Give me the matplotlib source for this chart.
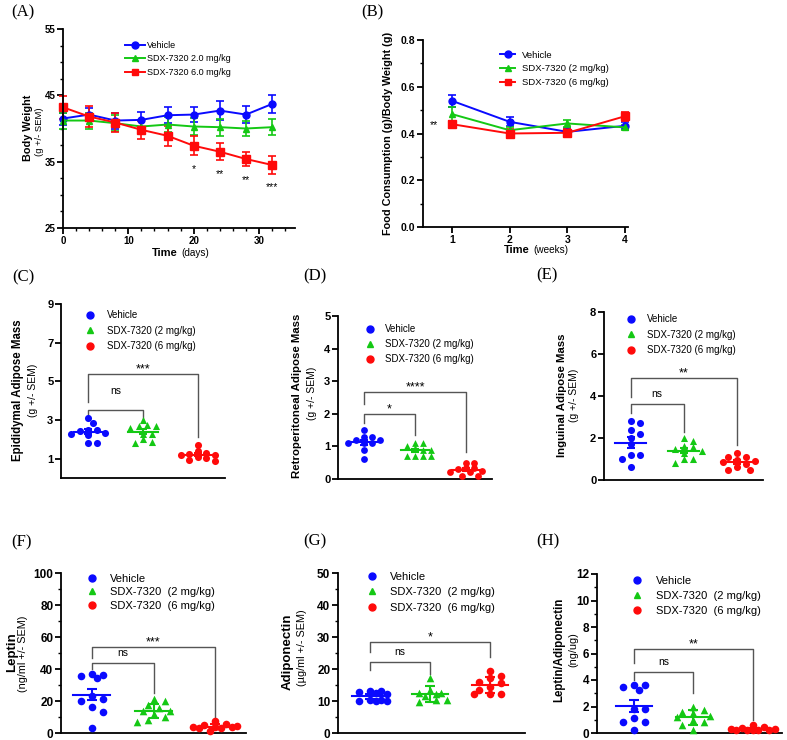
import numpy as np
import matplotlib
matplotlib.use('Agg')
import matplotlib.pyplot as plt
from matplotlib.lines import Line2D
from matplotlib.ticker import MultipleLocator

# ---------------- data ----------------
# (A) body weight
days = [0, 4, 8, 12, 16, 20, 24, 28, 32]
bw_vehicle = [41.5, 42.1, 41.2, 41.3, 42.0, 42.1, 42.7, 42.1, 43.7]
bw_vehicle_sem = [0.9, 1.0, 1.2, 1.2, 1.2, 1.1, 1.4, 1.3, 1.4]
bw_low = [41.2, 41.2, 40.8, 40.3, 40.6, 40.3, 40.2, 40.0, 40.2]
bw_low_sem = [1.2, 1.2, 1.2, 1.0, 1.1, 1.3, 1.3, 1.1, 1.2]
bw_high = [43.2, 41.8, 40.9, 39.8, 38.9, 37.4, 36.5, 35.4, 34.5]
bw_high_sem = [1.7, 1.6, 1.4, 1.4, 1.5, 1.4, 1.3, 1.1, 1.3]
bw_stars = ['', '', '', '', '', '*', '**', '**', '***']

# (B) food consumption / body weight
weeks = [1, 2, 3, 4]
fc_vehicle = [0.540, 0.450, 0.407, 0.433]
fc_vehicle_sem = [0.025, 0.020, 0.015, 0.015]
fc_low = [0.483, 0.414, 0.443, 0.426]
fc_low_sem = [0.030, 0.012, 0.015, 0.010]
fc_high = [0.440, 0.400, 0.403, 0.474]
fc_high_sem = [0.015, 0.020, 0.015, 0.020]
fc_stars = ['**', '', '', '']

# (C) epididymal adipose mass
epi_vehicle = [3.1, 2.85, 2.5, 2.5, 2.45, 2.35, 2.3, 2.2, 1.8, 1.8]
epi_low = [3.0, 2.75, 2.7, 2.7, 2.6, 2.3, 2.3, 2.0, 1.85, 1.8]
epi_high = [1.7, 1.4, 1.3, 1.25, 1.2, 1.2, 1.1, 1.05, 0.95, 0.9]
epi_err = [0.13, 0.13, 0.08]
epi_brackets = [(0, 1, 3.5, 3.0, 3.0, 'ns', 12), (0, 2, 5.4, 3.94, 2.12, '***', 1)]

# (D) retroperitoneal adipose mass
rp_vehicle = [1.5, 1.3, 1.3, 1.2, 1.2, 1.1, 1.1, 1.1, 0.9, 0.6]
rp_low = [1.1, 1.1, 1.0, 0.95, 0.9, 0.9, 0.7, 0.7, 0.7, 0.7]
rp_high = [0.5, 0.5, 0.35, 0.35, 0.3, 0.25, 0.22, 0.2, 0.1, 0.1]
rp_err = [0.08, 0.05, 0.05]
rp_brackets = [(0, 1, 2.0, 1.72, 1.35, '*', 1), (0, 2, 2.67, 2.3, 0.84, '****', 1)]

# (E) inguinal adipose mass
ing_vehicle = [2.8, 2.7, 2.4, 2.2, 2.0, 1.7, 1.2, 1.2, 1.0, 0.6]
ing_low = [2.0, 1.85, 1.6, 1.55, 1.5, 1.4, 1.3, 1.0, 1.0, 0.8]
ing_high = [1.3, 1.1, 1.1, 0.95, 0.9, 0.85, 0.75, 0.6, 0.5, 0.5]
ing_err = [0.25, 0.12, 0.1]
ing_brackets = [(0, 1, 3.6, 3.17, 2.3, 'ns', 5), (0, 2, 4.87, 3.96, 1.66, '**', 1)]

# (F) leptin
lep_vehicle = [36.6, 36.1, 35.9, 34.6, 23.2, 21.4, 20.0, 16.4, 13.3, 2.9]
lep_low = [21.4, 20.0, 17.5, 15.4, 14.0, 13.5, 12.0, 10.0, 8.0, 7.0]
lep_high = [7.5, 5.5, 5.0, 4.5, 4.0, 3.5, 3.5, 3.0, 3.0, 1.0]
lep_err = [3.7, 4.5, 1.5]
lep_brackets = [(0, 1, 43.6, 39.8, 24.9, 'ns', 5), (0, 2, 53.9, 46.7, 7.9, '***', 1)]

# (G) adiponectin
adi_vehicle = [13.1, 13.1, 12.9, 12.5, 12.3, 10.4, 10.2, 10.0, 9.9, 9.9]
adi_low = [17.2, 13.3, 12.5, 12.5, 12.3, 11.5, 10.2, 10.2, 9.7]
adi_high = [19.4, 17.7, 17.2, 16.0, 15.5, 14.5, 13.5, 12.3, 12.3, 12.2]
adi_err = [0.7, 2.5, 2.5]
adi_brackets = [(0, 1, 22.2, 19.6, 18.5, 'ns', 5), (0, 2, 28.4, 25.3, 23.75, '*', 1)]

# (H) leptin / adiponectin
ratio_vehicle = [3.6, 3.6, 3.45, 3.25, 1.8, 1.8, 1.1, 0.85, 0.85, 0.25]
ratio_low = [2.0, 1.7, 1.6, 1.5, 1.3, 1.2, 1.0, 0.8, 0.6, 0.2]
ratio_high = [0.6, 0.45, 0.35, 0.3, 0.3, 0.25, 0.25, 0.2, 0.2, 0.2]
ratio_err = [0.45, 0.55, 0.06]
ratio_brackets = [(0, 1, 4.64, 4.0, 3.0, 'ns', 5), (0, 2, 6.35, 5.3, 1.0, '**', 1)]

labels_line_a = ['Vehicle', 'SDX-7320 2.0 mg/kg', 'SDX-7320 6.0 mg/kg']
labels_line_b = ['Vehicle', 'SDX-7320 (2 mg/kg)', 'SDX-7320 (6 mg/kg)']
labels_mid = ['Vehicle', 'SDX-7320 (2 mg/kg)', 'SDX-7320 (6 mg/kg)']
labels_low = ['Vehicle', 'SDX-7320  (2 mg/kg)', 'SDX-7320  (6 mg/kg)']

BLUE, GREEN, RED = '#0a0aff', '#14c814', '#ff0a0a'
colors = [BLUE, GREEN, RED]
BRACKET = '#555555'

# ---------------- figure ----------------
W, H = 787, 740
plt.rcParams['font.family'] = ['Liberation Sans', 'DejaVu Sans']
plt.rcParams['axes.linewidth'] = 1.3
fig = plt.figure(figsize=(W / 100, H / 100), dpi=100)


def px_axes(l, t, r, b):
    return fig.add_axes([l / W, 1 - b / H, (r - l) / W, (b - t) / H])


def ftext(x, y, s, **kw):
    fig.text(x / W, 1 - y / H, s, **kw)


def style(ax, xticks, yticks, fs, yfmt='{:g}', xfmt='{:g}'):
    ax.spines['top'].set_visible(False)
    ax.spines['right'].set_visible(False)
    ax.tick_params(which='major', length=4, width=1.3, pad=1.5)
    ax.tick_params(which='minor', length=2.5, width=1.0)
    ax.set_yticks(yticks)
    ax.set_yticklabels([yfmt.format(v) for v in yticks], fontweight='bold', fontsize=fs)
    if xticks is None:
        ax.set_xticks([])
    else:
        ax.set_xticks(xticks)
        ax.set_xticklabels([xfmt.format(v) for v in xticks], fontweight='bold', fontsize=fs)


def legend_at(ax, handles, labels, x0, y_first, text_x, fs, row_px, hl):
    fs_px = fs * 100 / 72
    pad = (text_x - x0 - hl * fs_px) / fs_px
    spacing = (row_px - 1.15 * fs_px) / fs_px
    top = y_first - 0.575 * fs_px
    ax.legend(handles, labels, loc='upper left', bbox_to_anchor=(x0 / W, 1 - top / H),
              bbox_transform=fig.transFigure, frameon=False, fontsize=fs,
              handlelength=hl, handletextpad=pad, labelspacing=spacing,
              borderpad=0, borderaxespad=0)


def swarm(ax, vals, xlim, ylim, d, kmax):
    # spread points sideways when they would overlap, at most kmax*d from centre
    bb = ax.get_position()
    xs = bb.width * W / (xlim[1] - xlim[0])
    ys = bb.height * H / (ylim[1] - ylim[0])
    dv = 0.6 * d
    ks = [0] + [s * k for k in np.arange(0.5, kmax + 0.01, 0.5) for s in (1, -1)]
    placed = []
    offs = np.zeros(len(vals))
    for i in np.argsort(vals)[::-1]:
        y = vals[i] * ys
        best, best_x = -1, 0
        for k in ks:
            x = k * d
            gap = min([((x - px) / d) ** 2 + ((y - py) / dv) ** 2 for px, py in placed] + [9])
            if gap >= 0.95:
                best_x = x
                break
            if gap > best:
                best, best_x = gap, x
        placed.append((best_x, y))
        offs[i] = best_x / xs
    return offs


def line_panel(ax, x, series, sems, markers, sizes):
    for vals, sem, c, m, ms in zip(series, sems, colors, markers, sizes):
        cont = ax.errorbar(x, vals, yerr=sem, color=c, marker=m, ms=ms, lw=1.4,
                           elinewidth=1.2, capsize=3, capthick=1.2)
        for art in cont.get_children():
            art.set_clip_on(False)


def dot_panel(ax, groups, errs, ylim, xlim, brackets, d, s, half_w, cap, kmax):
    markers = ['o', '^', 'o']
    for i, (vals, err) in enumerate(zip(groups, errs)):
        vals = np.array(vals)
        offs = swarm(ax, vals, xlim, ylim, d, kmax[i])
        ax.scatter(i + offs, vals, s=s, marker=markers[i], color=colors[i],
                   linewidths=0, zorder=3, clip_on=False)
        m = vals.mean()
        ax.plot([i - half_w, i + half_w], [m, m], color=colors[i], lw=1.5, zorder=4)
        ax.errorbar(i, m, yerr=err, color=colors[i], lw=1.5, capsize=cap, capthick=1.5, zorder=4)
    for x1, x2, y, yl, yr, lab, off in brackets:
        ax.plot([x1, x1, x2, x2], [yl, y, y, yr], color=BRACKET, lw=1.0)
        fsz = 7.5 if lab == 'ns' else 9
        ax.annotate(lab, ((x1 + x2) / 2, y), xytext=(0, off), textcoords='offset points',
                    ha='center', va='baseline', fontsize=fsz)
    ax.set_xlim(xlim)
    ax.set_ylim(ylim)


def ylabel_pair(x1, x2, y, main, sub, fs1, fs2, y2=None):
    ftext(x1, y, main, rotation=90, ha='center', va='center', fontweight='bold', fontsize=fs1)
    ftext(x2, y if y2 is None else y2, sub, rotation=90, ha='center', va='center', fontsize=fs2)


# ---- (A) ----
axA = px_axes(63, 29, 295, 228)
line_panel(axA, days, [bw_vehicle, bw_low, bw_high], [bw_vehicle_sem, bw_low_sem, bw_high_sem],
           ['o', '^', 's'], [5, 5, 5.5])
for d_, v, s_, st in zip(days, bw_high, bw_high_sem, bw_stars):
    if st:
        axA.annotate(st, (d_, v - s_), xytext=(0, -12), textcoords='offset points',
                     ha='center', va='baseline', fontsize=7.5)
axA.set_xlim(0, 35.5)
axA.set_ylim(25, 55)
style(axA, [0, 10, 20, 30], [25, 35, 45, 55], 7)
axA.xaxis.set_minor_locator(MultipleLocator(2))
axA.yaxis.set_minor_locator(MultipleLocator(2.5))
hA = [Line2D([], [], color=c, marker=m, ms=5, lw=1.4) for c, m in zip(colors, ['o', '^', 's'])]
legend_at(axA, hA, labels_line_a, 125, 46, 147, 6.5, 15, 2.2)
ylabel_pair(28, 40, 128, 'Body Weight', '(g +/- SEM)', 7.8, 6.8, 132)
ftext(178, 253, 'Time', ha='right', va='center', fontweight='bold', fontsize=8)
ftext(181, 253, '(days)', ha='left', va='center', fontsize=7.2)

# ---- (B) ----
axB = px_axes(423, 40, 628, 227)
line_panel(axB, weeks, [fc_vehicle, fc_low, fc_high], [fc_vehicle_sem, fc_low_sem, fc_high_sem],
           ['o', '^', 's'], [5, 5, 5.5])
for w_, v, st in zip(weeks, fc_high, fc_stars):
    if st:
        axB.annotate(st, (w_, v), xytext=(-10, -3), textcoords='offset points',
                     ha='right', va='baseline', fontsize=7.5)
axB.set_xlim(0.5, 4.05)
axB.set_ylim(0, 0.8)
style(axB, [1, 2, 3, 4], [0, 0.2, 0.4, 0.6, 0.8], 7.5, yfmt='{:.1f}')
axB.yaxis.set_minor_locator(MultipleLocator(0.1))
legend_at(axB, hA, labels_line_b, 500, 56, 522, 6.8, 15.5, 1.6)
ftext(388, 133, 'Food Consumption (g)/Body Weight (g)', rotation=90, ha='center', va='center',
      fontweight='bold', fontsize=7.8)
ftext(530, 250, 'Time', ha='right', va='center', fontweight='bold', fontsize=8)
ftext(533, 250, '(weeks)', ha='left', va='center', fontsize=7.2)

# ---- (C)-(H) ----
hDot = [Line2D([], [], color=c, marker=m, ms=5, lw=0) for c, m in zip(colors, ['o', '^', 'o'])]

axC = px_axes(61, 304, 225, 478)
dot_panel(axC, [epi_vehicle, epi_low, epi_high], epi_err, (0, 9), (-0.5, 2.5), epi_brackets,
          8.5, 26, 0.27, 3, [2, 2, 2])
style(axC, None, [1, 3, 5, 7, 9], 8)
legend_at(axC, hDot, labels_mid, 85, 316, 107, 7, 16.5, 1.0)
ylabel_pair(18, 33, 390, 'Epididymal Adipose Mass', '(g +/- SEM)', 8.3, 7.5)

axD = px_axes(338, 316, 492, 479)
dot_panel(axD, [rp_vehicle, rp_low, rp_high], rp_err, (0, 5), (-0.5, 2.5), rp_brackets,
          8.0, 24, 0.27, 3, [2, 2, 2])
style(axD, None, [0, 1, 2, 3, 4, 5], 8)
legend_at(axD, hDot, labels_mid, 365, 330, 385, 7, 16, 1.0)
ylabel_pair(297, 312, 396, 'Retroperitoneal Adipose Mass', '(g +/- SEM)', 8.2, 7.5, 393)

axE = px_axes(604, 312, 763, 480)
dot_panel(axE, [ing_vehicle, ing_low, ing_high], ing_err, (0, 8), (-0.5, 2.5), ing_brackets,
          9.0, 26, 0.3, 3, [2, 2, 2])
style(axE, None, [0, 2, 4, 6, 8], 8)
legend_at(axE, hDot, labels_mid, 626, 320, 647, 7, 16.5, 1.0)
ylabel_pair(562, 574, 395, 'Inguinal Adipose Mass', '(g +/- SEM)', 8.2, 7.5)

axF = px_axes(61, 573, 246, 733)
dot_panel(axF, [lep_vehicle, lep_low, lep_high], lep_err, (0, 100), (-0.5, 2.5), lep_brackets,
          11.0, 30, 0.3, 3.5, [1.5, 1.5, 2])
style(axF, None, [0, 20, 40, 60, 80, 100], 8.5)
axF.yaxis.set_minor_locator(MultipleLocator(10))
legend_at(axF, hDot, labels_low, 86, 580, 110, 8, 16.5, 1.0)
ylabel_pair(12, 23, 652, 'Leptin', '(ng/ml +/- SEM)', 9.5, 7.8, 654)

axG = px_axes(338, 573, 525, 733)
dot_panel(axG, [adi_vehicle, adi_low, adi_high], adi_err, (0, 50), (-0.533, 2.58), adi_brackets,
          11.0, 30, 0.3, 3.5, [1.5, 1.5, 1.5])
style(axG, None, [0, 10, 20, 30, 40, 50], 8.5)
axG.yaxis.set_minor_locator(MultipleLocator(5))
legend_at(axG, hDot, labels_low, 366, 578, 390, 8, 18.5, 1.0)
ylabel_pair(288, 302, 652, 'Adiponectin', '(\u00b5g/ml +/- SEM)', 9.5, 7.8, 648)

axH = px_axes(597, 574, 782, 733)
dot_panel(axH, [ratio_vehicle, ratio_low, ratio_high], ratio_err, (0, 12), (-0.62, 2.49),
          ratio_brackets, 11.0, 30, 0.3, 3.5, [1.5, 1.5, 2])
style(axH, None, [0, 2, 4, 6, 8, 10, 12], 8.5)
axH.yaxis.set_minor_locator(MultipleLocator(1))
legend_at(axH, hDot, labels_low, 631, 582, 656, 8, 18, 1.0)
ylabel_pair(559, 573, 650, 'Leptin/Adiponectin', '(ng/ug)', 8.3, 7.8)

# panel letters
for s, x, y in [('(A)', 23, 12), ('(B)', 372, 12), ('(C)', 23, 277), ('(D)', 315, 276),
                ('(E)', 547, 275), ('(F)', 22, 542), ('(G)', 315, 541), ('(H)', 548, 541)]:
    ftext(x, y, s, ha='center', va='center', fontsize=12, family='Liberation Serif')

fig.savefig('out.png', dpi=100)
